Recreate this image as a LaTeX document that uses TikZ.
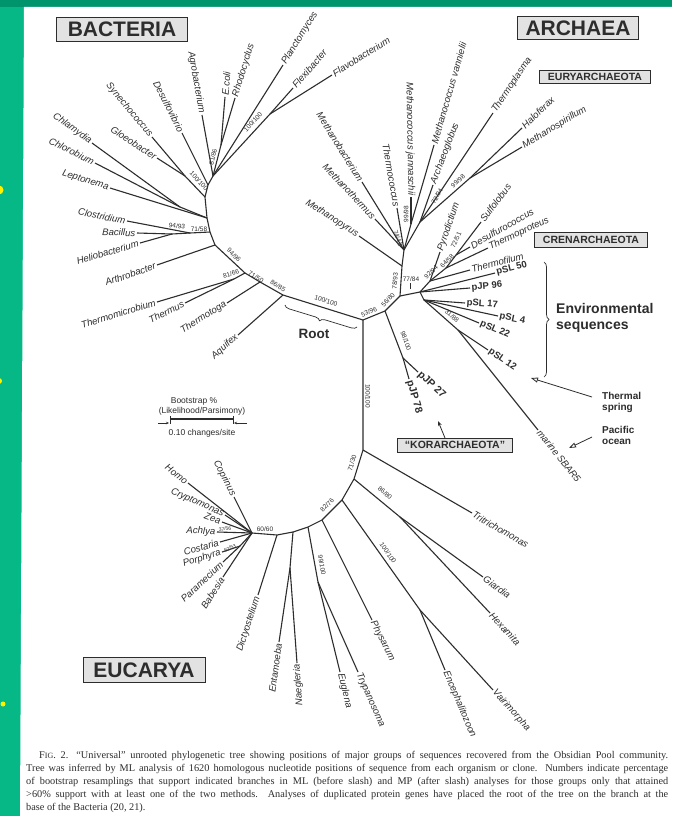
\documentclass[tikz,border=0pt]{standalone}
\usepackage{fontspec}
\setmainfont{Liberation Sans}
\newfontfamily\capfont{Liberation Serif}
\usetikzlibrary{arrows.meta,decorations.pathreplacing}

\definecolor{slidegreen}{RGB}{0,148,108}
\definecolor{stripgreen}{RGB}{6,184,134}
\definecolor{ink}{RGB}{45,45,45}
\definecolor{boxgray}{RGB}{226,226,226}

\tikzset{
  branch/.style={draw=ink, line width=1.1pt, line join=round},
  lleaf/.style={anchor=east, inner sep=1.5pt, text=ink, font=\itshape\fontsize{9.6}{9.6}\selectfont},
  rleaf/.style={anchor=west, inner sep=1.5pt, text=ink, font=\itshape\fontsize{9.6}{9.6}\selectfont},
  envleaf/.style={rleaf, font=\bfseries\fontsize{9.5}{9.5}\selectfont},
  boot/.style={inner sep=0pt, text=ink, font=\fontsize{6.5}{6.5}\selectfont},
  domainbox/.style={draw=ink, line width=0.9pt, fill=boxgray, inner sep=0pt, text=ink, font=\bfseries\fontsize{21}{21}\selectfont},
  phylumbox/.style={draw=ink, line width=0.8pt, fill=boxgray, inner sep=0pt, text=ink, font=\bfseries\fontsize{10.5}{10.5}\selectfont},
  envnote/.style={text=ink, align=left, inner sep=0pt, font=\bfseries\fontsize{10}{11}\selectfont},
  scaletext/.style={text=ink, inner sep=0pt, font=\fontsize{8.5}{8.5}\selectfont}
}

\begin{document}
\begin{tikzpicture}[x=1pt,y=-1pt]
    % Slide and page
    \useasboundingbox (0,0) rectangle (672,816);
    \fill[slidegreen] (0,0) rectangle (672,816);
    \fill[stripgreen] (0,7) rectangle (24,816);
    \fill[white] (24,7) -- (672,7) -- (672,816) -- (20,816) -- cycle;
    \fill[yellow] (-1,190) circle (4.5pt);
    \fill[yellow] (-1,381) circle (3pt);
    \fill[yellow] (3,704) circle (2.5pt);

    % Domain and group boxes
    \node[domainbox, minimum width=131pt, minimum height=24pt] (bact) at (122,29) {BACTERIA};
    \node[domainbox, minimum width=121pt, minimum height=23pt] (arch) at (578,28) {ARCHAEA};
    \node[domainbox, minimum width=122pt, minimum height=25pt] (euca) at (144,670) {EUCARYA};
    \node[phylumbox, minimum width=111pt, minimum height=13pt] (eury) at (595,77) {EURYARCHAEOTA};
    \node[phylumbox, minimum width=113pt, minimum height=15pt] (cren) at (591,240) {CRENARCHAEOTA};
    \node[phylumbox, minimum width=115pt, minimum height=14pt] (kor) at (455,445) {“KORARCHAEOTA”};

    % Internal nodes
    \coordinate (r) at (363,320);
    \coordinate (b0) at (283,295);
    \coordinate (b1) at (260,282);
    \coordinate (b2) at (245,273);
    \coordinate (tt) at (234,279);
    \coordinate (b3) at (215,245);
    \coordinate (b4) at (210,232);
    \coordinate (cl) at (190,233);
    \coordinate (bh) at (172,234);
    \coordinate (b5) at (207,218);
    \coordinate (cc) at (180,207);
    \coordinate (b6) at (205,197);
    \coordinate (cy) at (185,176);
    \coordinate (b7) at (208,185);
    \coordinate (b8) at (213,176);
    \coordinate (er) at (221,145);
    \coordinate (ff) at (270,114);
    \coordinate (k) at (385,311);
    \coordinate (a) at (400,296);
    \coordinate (kk) at (403,358);
    \coordinate (e) at (402,266);
    \coordinate (e2) at (404,250);
    \coordinate (mj) at (411,224);
    \coordinate (ea) at (420,222);
    \coordinate (hm) at (470,178);
    \coordinate (c0) at (420,292);
    \coordinate (cr) at (430,281);
    \coordinate (cr2) at (446,268);
    \coordinate (cr3) at (456,255);
    \coordinate (c1) at (424,300);
    \coordinate (n31) at (458,330);
    \coordinate (e1) at (363,450);
    \coordinate (e2e) at (354,479);
    \coordinate (e3) at (342,500);
    \coordinate (e4) at (322,520);
    \coordinate (e5) at (308,527);
    \coordinate (e6) at (293,532);
    \coordinate (dd) at (277,535);
    \coordinate (crown) at (252,533);
    \coordinate (gh) at (400,517);
    \coordinate (ev) at (420,610);
    \coordinate (et) at (318,582);
    \coordinate (en) at (290,568);
    \coordinate (pp) at (240,546);

    % Inner branches
    \draw[branch] (r) -- (b0) -- (b1) -- (b2) -- (b3) -- (b4) -- (b5) -- (b6) -- (b7) -- (b8);
    \draw[branch] (b2) -- (tt);
    \draw[branch] (b4) -- (cl) -- (bh);
    \draw[branch] (b5) -- (cc);
    \draw[branch] (b6) -- (cy);
    \draw[branch] (b8) -- (er);
    \draw[branch] (b8) -- (ff);
    \draw[branch] (r) -- (k) -- (a) -- (e) -- (e2) -- (mj);
    \draw[branch] (k) -- (kk);
    \draw[branch] (e2) -- (ea) -- (hm);
    \draw[branch] (a) -- (c0) -- (cr) -- (cr2) -- (cr3);
    \draw[branch] (c0) -- (c1) -- (n31);
    \draw[branch] (r) -- (e1) -- (e2e) -- (e3) -- (e4) -- (e5) -- (e6) -- (dd) -- (crown);
    \draw[branch] (e2e) -- (gh);
    \draw[branch] (e3) -- (ev);
    \draw[branch] (e5) -- (et);
    \draw[branch] (e6) -- (en);
    \draw[branch] (crown) -- (pp);

    % Tips with names on the left
    \foreach \nm/\up/\xx/\yy/\ang/\txt in {
        aquifex/b0/238/335/42/Aquifex, thermotoga/b1/227/303/32/Thermotoga,
        thermus/tt/185/303/26/Thermus, thermomic/tt/157/302/17/Thermomicrobium,
        arthro/b3/157/265/19/Arthrobacter, helio/bh/140/243/16/Heliobacterium,
        bacillus/bh/137/233/-2/Bacillus, clostr/cl/127/221/-11/Clostridium,
        lepto/b5/110/188/-17/Leptonema, chlorob/cc/95/163/-27/Chlorobium,
        chlamyd/cc/92/143/-36/Chlamydia, gloeo/cy/157/158/-33/Gloeobacter,
        synecho/cy/152/137/-50/Synechococcus, desulfo/b7/182/133/-63/Desulfovibrio,
        agro/b8/202/115/-80/Agrobacterium,
        jannasch/mj/411/197/-89/Methanococcus jannaschii, thermococ/e2/397/208/-80/Thermococcus,
        mbact/e2/362/182/-58/Methanobacterium, mtherm/e2/375/219/-47/Methanothermus,
        mpyrus/e/359/236/-33/Methanopyrus,
        naegleria/en/297/663/94/Naegleria, entamoeba/en/279/642/82/Entamoeba,
        dictyo/dd/258/595/72/Dictyostelium, babesia/crown/223/577/57/Babesia,
        paramec/pp/223/562/43/Paramecium, porphyra/pp/222/552/18/Porphyra,
        costaria/crown/220/542/16/Costaria, achlya/crown/217/532/-2/Achlya,
        zea/crown/222/522/-20/Zea, crypto/crown/225/515/-24/Cryptomonas,
        coprinus/crown/234/497/-63/Coprinus, homo/crown/188/483/-38/Homo}{
        \node[lleaf, rotate=\ang] (\nm) at (\xx,\yy) {\txt};
        \draw[branch] (\up) -- (\nm.east);
    }

    % Tips with names on the right
    \foreach \nm/\up/\xx/\yy/\ang/\txt in {
        ecoli/er/225/97/85/E.coli, rhodo/er/235/98/73/Rhodocyclus,
        plancto/b8/283/65/58/Planctomyces, flexi/ff/293/88/49/Flexibacter,
        flavo/ff/332/75/32/Flavobacterium,
        vanniel/mj/434/145/74/Methanococcus vannielii, archaeo/ea/433/185/69/Archaeoglobus,
        thermopl/ea/493/113/56/Thermoplasma, halofx/hm/522/128/44/Haloferax,
        mspirill/hm/522/147/31/Methanospirillum,
        pyrodict/cr/440/252/71/Pyrodictium, thermofil/cr/470/270/15/Thermofilum,
        thermoprot/cr2/488/248/25/Thermoproteus, desulfur/cr3/470/247/30/Desulfurococcus,
        sulfolob/cr3/481/222/53/Sulfolobus, sbar/n31/538/430/-51/marine SBAR5,
        tritri/e1/472/513/-30/Tritrichomonas, giardia/gh/483/577/-36/Giardia,
        hexamita/gh/490/613/-47/Hexamita, enceph/ev/445/670/-67/Encephalitozoon,
        vairim/ev/493/690/-48/Vairimorpha, physarum/e4/372/620/-63/Physarum,
        euglena/et/340/672/-76/Euglena, trypano/et/358/672/-66/Trypanosoma}{
        \node[rleaf, rotate=\ang] (\nm) at (\xx,\yy) {\txt};
        \draw[branch] (\up) -- (\nm.west);
    }

    % Environmental clones
    \foreach \nm/\up/\xx/\yy/\ang/\txt in {
        psl50/c0/495/273/14/pSL 50, pjp96/c0/470/288/5/pJP 96,
        psl17/c1/465/303/-4/pSL 17, psl4/c1/498/316/-12/pSL 4,
        psl22/c1/479/323/-23/pSL 22, psl12/n31/488/350/-34/pSL 12}{
        \node[envleaf, rotate=\ang] (\nm) at (\xx,\yy) {\txt};
        \draw[branch] (\up) -- (\nm.west);
    }
    \foreach \nm/\xx/\yy/\ang/\txt in {pjp27/418/372/-43/pJP 27, pjp78/409/379/-74/pJP 78}{
        \node[envleaf, rotate=\ang, font=\bfseries\fontsize{10.5}{10.5}\selectfont] (\nm) at (\xx,\yy) {\txt};
        \draw[branch] (kk) -- (\nm.west);
    }

    % Bootstrap values
    \foreach \xx/\yy/\ang/\txt [count=\i] in {
        278/286/-30/86\slash 85, 256/277/-30/71\slash 50, 231/274/18/81\slash 66,
        234/255/-45/94\slash 96, 199/229/0/71\slash 58, 177/226/-8/94\slash 93,
        199/181/-47/100\slash 100, 213/157/76/81\slash 86, 253/122/47/100\slash 100,
        326/301/-17/100\slash 100, 369/312/22/53\slash 96, 388/300/47/56\slash 80,
        395/281/85/78\slash 93, 411/279/0/77\slash 84, 406/341/-70/98\slash 100,
        398/238/-70/74\slash 43, 406/214/90/99\slash 98, 437/196/60/72\slash 94,
        458/181/41/99\slash 98, 431/272/45/92\slash 94, 447/261/45/64\slash 58,
        456/240/65/72\slash 51, 452/316/-40/31\slash 88,
        368/396/-90/100\slash 100, 352/463/73/71\slash 30, 385/493/-40/86\slash 80,
        327/505/45/82\slash 76, 322/565/-80/99\slash 100, 388/553/-55/100\slash 100,
        265/529/0/60\slash 60}{
        \node[boot, rotate=\ang] (bs\i) at (\xx,\yy) {\txt};
    }
    \node[boot, rotate=8, font=\fontsize{5}{5}\selectfont] (bsachlya) at (225,529) {37/56};
    \node[boot, rotate=25, font=\fontsize{5}{5}\selectfont] (bsporph) at (230,548) {52/53};
    \draw[ink, line width=0.5pt] (410,283) -- (410,289);

    % Root brace
    \coordinate (rootstart) at (357,327);
    \coordinate (rootend) at (285,305);
    \draw[ink, line width=0.7pt, decorate, decoration={brace, amplitude=5pt}] (rootstart) -- (rootend);
    \node[text=ink, font=\bfseries\fontsize{13.5}{13.5}\selectfont] (root) at (314,334) {Root};

    % Environmental sequences brace
    \coordinate (envtop) at (544,262);
    \coordinate (envbot) at (544,377);
    \draw[ink, line width=0.7pt, decorate, decoration={brace, amplitude=5pt}] (envtop) -- (envbot);
    \node[envnote, anchor=west, font=\bfseries\fontsize{14}{15.5}\selectfont] (envseq) at (556,318) {Environmental\\sequences};

    % Sampling sites
    \node[envnote, anchor=north west] (thermal) at (602,392) {Thermal\\spring};
    \node[envnote, anchor=north west] (pacific) at (602,426) {Pacific\\ocean};
    \coordinate (thermaltail) at (592,397);
    \coordinate (thermaltip) at (531,378);
    \coordinate (pacifictail) at (592,437);
    \coordinate (pacifictip) at (569,448);
    \draw[ink, line width=0.8pt, -{Triangle[open, length=7pt, width=5pt]}] (thermaltail) -- (thermaltip);
    \draw[ink, line width=0.8pt, -{Triangle[open, length=7pt, width=5pt]}] (pacifictail) -- (pacifictip);
    \coordinate (korfoot) at (445,438);
    \coordinate (kortip) at (438,421);
    \draw[ink, line width=0.8pt, -{Stealth[length=5pt, width=4pt]}] (korfoot) -- (kortip);

    % Scale bar
    \node[scaletext] (bootlbl) at (194,401) {Bootstrap \%};
    \node[scaletext] (likelbl) at (202,411) {(Likelihood/Parsimony)};
    \node[scaletext] (unitlbl) at (202,433) {0.10 changes/site};
    \draw[ink, line width=1.6pt] (170,419) -- (233,419);
    \draw[ink, line width=0.5pt] (170,416) -- (170,424);
    \draw[ink, line width=0.5pt] (233,416) -- (233,424);
    \draw[ink, line width=0.5pt, -{Stealth[length=3pt, width=2.5pt]}] (158,423) -- (169,423);
    \draw[ink, line width=0.5pt, -{Stealth[length=3pt, width=2.5pt]}] (247,423) -- (234,423);

    % Figure legend
    \node[anchor=north west, inner sep=0pt, text=ink, align=left, font=\capfont\fontsize{10.3}{12.9}\selectfont] (legend) at (26,751) {%
        \makebox[642pt][s]{\hspace*{13pt}F{\fontsize{8}{8}\selectfont IG}. 2.\hspace{8pt}“Universal” unrooted phylogenetic tree showing positions of major groups of sequences recovered from the Obsidian Pool community.}\\
        \makebox[642pt][s]{Tree was inferred by ML analysis of 1620 homologous nucleotide positions of sequence from each organism or clone. Numbers indicate percentage}\\
        \makebox[642pt][s]{of bootstrap resamplings that support indicated branches in ML (before slash) and MP (after slash) analyses for those groups only that attained}\\
        \makebox[642pt][s]{>60\% support with at least one of the two methods. Analyses of duplicated protein genes have placed the root of the tree on the branch at the}\\
        base of the Bacteria (20, 21).};
\end{tikzpicture}
\end{document}
